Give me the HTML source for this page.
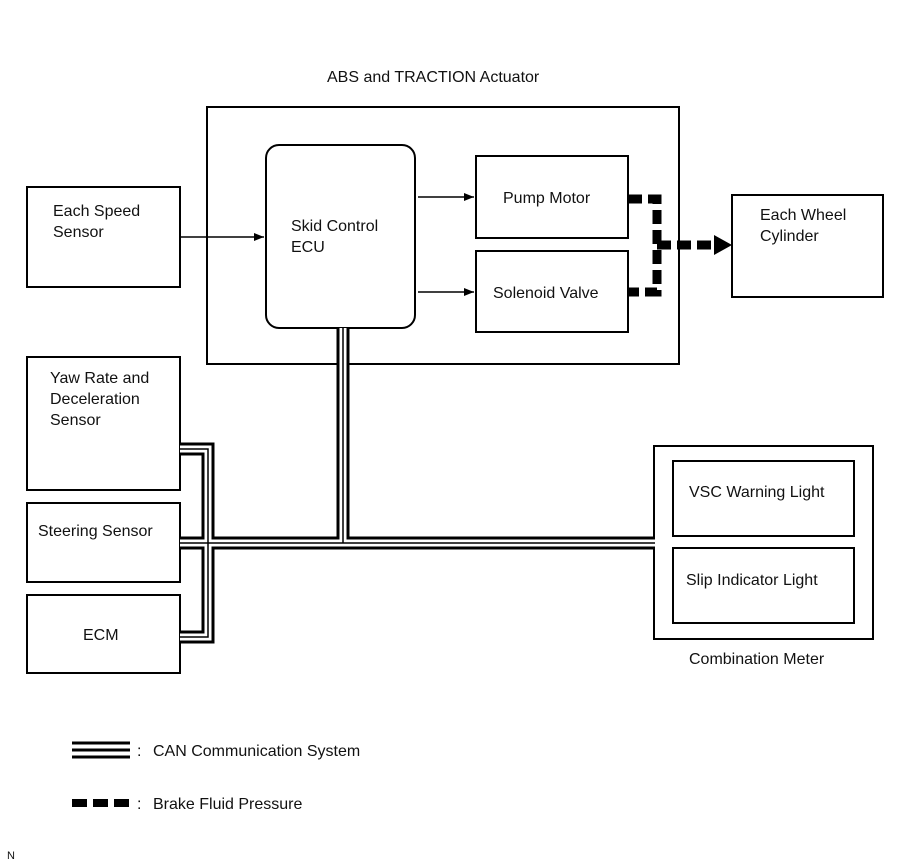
<!DOCTYPE html>
<html><head><meta charset="utf-8"><style>
html,body{margin:0;padding:0;background:#fff}
svg{display:block}
text{font-family:"Liberation Sans",Arial,sans-serif;font-size:16px;fill:#111}
</style></head><body>
<svg width="907" height="866" viewBox="0 0 907 866" xmlns="http://www.w3.org/2000/svg">
<defs><marker id="ah" markerWidth="10" markerHeight="8" refX="10" refY="4" orient="auto" markerUnits="userSpaceOnUse"><path d="M0,0 L10,4 L0,8 z" fill="#000"/></marker></defs>
<g fill="none" stroke="#000" stroke-width="2">
<rect x="207" y="107" width="472" height="257"/>
<rect x="266" y="145" width="149" height="183" rx="13"/>
<rect x="476" y="156" width="152" height="82"/>
<rect x="476" y="251" width="152" height="81"/>
<rect x="27" y="187" width="153" height="100"/>
<rect x="732" y="195" width="151" height="102"/>
<rect x="27" y="357" width="153" height="133"/>
<rect x="27" y="503" width="153" height="79"/>
<rect x="27" y="595" width="153" height="78"/>
<rect x="654" y="446" width="219" height="193"/>
<rect x="673" y="461" width="181" height="75"/>
<rect x="673" y="548" width="181" height="75"/>
</g>
<g stroke="#000" stroke-width="1.5" fill="none">
<line x1="180" y1="237" x2="264" y2="237" marker-end="url(#ah)"/>
<line x1="418" y1="197" x2="474" y2="197" marker-end="url(#ah)"/>
<line x1="418" y1="292" x2="474" y2="292" marker-end="url(#ah)"/>
</g>
<g fill="none" stroke-linejoin="miter" stroke-linecap="butt">
<path d="M180,449 H208 V637 H180 M180,543 H655 M343,328 V543" stroke="#000" stroke-width="13"/>
<path d="M180,449 H208 V637 H180 M180,543 H655 M343,328 V543" stroke="#fff" stroke-width="7"/>
<path d="M180,449 H208 V637 H180 M180,543 H655 M343,328 V543" stroke="#000" stroke-width="1.5"/>
</g>
<g fill="none" stroke="#000" stroke-width="9" stroke-dasharray="14,6">
<path d="M628,199 H657 V292 H628"/>
<path d="M657,245 H716"/>
</g>
<path d="M714,235 L732,245 L714,255 z" fill="#000"/>
<g stroke="#000" stroke-width="3">
<line x1="72" y1="743" x2="130" y2="743"/>
<line x1="72" y1="750" x2="130" y2="750"/>
<line x1="72" y1="757" x2="130" y2="757"/>
</g>
<line x1="72" y1="803" x2="130" y2="803" stroke="#000" stroke-width="8" stroke-dasharray="15,6"/>
<text x="327" y="82">ABS and TRACTION Actuator</text>
<text x="53" y="216">Each Speed</text>
<text x="53" y="237">Sensor</text>
<text x="291" y="231">Skid Control</text>
<text x="291" y="252">ECU</text>
<text x="503" y="203">Pump Motor</text>
<text x="493" y="298">Solenoid Valve</text>
<text x="760" y="220">Each Wheel</text>
<text x="760" y="241">Cylinder</text>
<text x="50" y="383">Yaw Rate and</text>
<text x="50" y="404">Deceleration</text>
<text x="50" y="425">Sensor</text>
<text x="38" y="536">Steering Sensor</text>
<text x="83" y="640">ECM</text>
<text x="689" y="497">VSC Warning Light</text>
<text x="686" y="585">Slip Indicator Light</text>
<text x="689" y="664">Combination Meter</text>
<text x="137" y="756">:</text><text x="153" y="756">CAN Communication System</text>
<text x="137" y="809">:</text><text x="153" y="809">Brake Fluid Pressure</text>
<text x="7" y="859" style="font-size:11px">N</text>
</svg>
</body></html>
